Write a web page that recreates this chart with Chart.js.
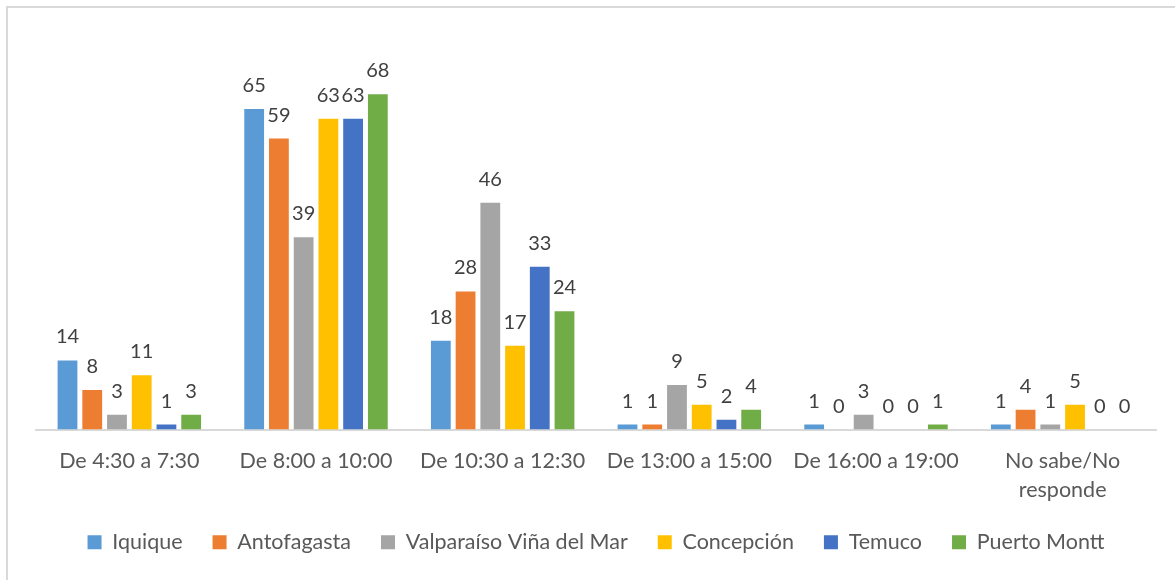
<!DOCTYPE html>
<html>
<head>
<meta charset="utf-8">
<script src="https://cdn.jsdelivr.net/npm/chart.js@4.4.1/dist/chart.umd.min.js"></script>
<style>
  html, body { margin: 0; padding: 0; background: #ffffff; }
  #wrap { position: relative; width: 1175px; height: 580px; overflow: hidden; }
</style>
</head>
<body>
<div id="wrap"><canvas id="c" width="1175" height="580"></canvas></div>
<script>
const categories = [
  'De 4:30 a 7:30',
  'De 8:00 a 10:00',
  'De 10:30 a 12:30',
  'De 13:00 a 15:00',
  'De 16:00 a 19:00',
  ['No sabe/No', 'responde']
];
const seriesNames = ['Iquique', 'Antofagasta', 'Valparaíso Viña del Mar', 'Concepción', 'Temuco', 'Puerto Montt'];
const iquique     = [14, 65, 18, 1, 1, 1];
const antofagasta = [8, 59, 28, 1, 0, 4];
const valparaiso  = [3, 39, 46, 9, 3, 1];
const concepcion  = [11, 63, 17, 5, 0, 5];
const temuco      = [1, 63, 33, 2, 0, 0];
const puertoMontt = [3, 68, 24, 4, 1, 0];
const seriesValues = [iquique, antofagasta, valparaiso, concepcion, temuco, puertoMontt];
const seriesColors = ['#5B9BD5', '#ED7D31', '#A5A5A5', '#FFC000', '#4472C4', '#70AD47'];

const FONT = "Lato, 'Open Sans', 'Liberation Sans', sans-serif";

const frame = {
  id: 'frame',
  beforeDraw(chart) {
    const ctx = chart.ctx;
    ctx.save();
    ctx.fillStyle = '#ffffff';
    ctx.fillRect(0, 0, chart.width, chart.height);
    ctx.strokeStyle = '#D9D9D9';
    ctx.lineWidth = 2;
    ctx.beginPath();
    ctx.moveTo(7, chart.height + 5);
    ctx.lineTo(7, 7);
    ctx.lineTo(chart.width + 5, 7);
    ctx.stroke();
    ctx.restore();
  }
};

const valueLabels = {
  id: 'valueLabels',
  afterDatasetsDraw(chart) {
    const ctx = chart.ctx;
    ctx.save();
    ctx.font = '20px ' + FONT;
    ctx.fillStyle = '#404040';
    ctx.textAlign = 'center';
    ctx.textBaseline = 'alphabetic';
    chart.data.datasets.forEach((ds, i) => {
      const meta = chart.getDatasetMeta(i);
      meta.data.forEach((bar, j) => {
        ctx.fillText(String(ds.data[j]), bar.x, bar.y - 17);
      });
    });
    ctx.restore();
  }
};

new Chart(document.getElementById('c'), {
  type: 'bar',
  data: {
    labels: categories,
    datasets: seriesNames.map((n, i) => ({
      label: n,
      data: seriesValues[i],
      backgroundColor: seriesColors[i],
      borderWidth: 0,
      categoryPercentage: 0.795,
      barPercentage: 0.8
    }))
  },
  options: {
    responsive: false,
    animation: false,
    devicePixelRatio: 1,
    layout: { padding: { left: 36, right: 19, top: 35, bottom: 17 } },
    scales: {
      x: {
        grid: { display: false, drawTicks: false },
        border: { display: true, color: '#D9D9D9', width: 2 },
        ticks: {
          color: '#595959',
          font: { family: FONT, size: 21.5, lineHeight: 1.35 },
          padding: 17,
          maxRotation: 0,
          autoSkip: false
        },
        afterFit(scale) { scale.height = 72; }
      },
      y: {
        display: false,
        min: 0,
        max: 80
      }
    },
    plugins: {
      legend: {
        position: 'bottom',
        labels: {
          color: '#595959',
          font: { family: FONT, size: 21.5 },
          boxWidth: 14,
          boxHeight: 14,
          padding: 30
        }
      },
      tooltip: { enabled: false },
      title: { display: false }
    }
  },
  plugins: [frame, valueLabels]
});
</script>
</body>
</html>
